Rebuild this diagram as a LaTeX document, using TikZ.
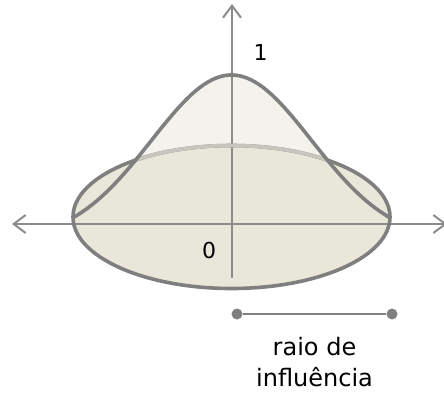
\documentclass[tikz,border=0pt]{standalone}
\usepackage{fontspec}
\setmainfont{DejaVu Sans}
\usetikzlibrary{arrows.meta, positioning, calc}
\definecolor{linegray}{HTML}{7F7F7F}
\definecolor{axisgray}{HTML}{8C8C8C}
\definecolor{rimgray}{HTML}{C6C5BE}
\definecolor{discfill}{HTML}{E9E6DA}
\definecolor{bellfill}{HTML}{F3F2EC}
\tikzset{
    axis/.style={draw=axisgray, line width=2pt, {Straight Barb[length=12pt,width=18pt]}-{Straight Barb[length=12pt,width=18pt]}},
    outline/.style={draw=linegray, line width=3.6pt},
    rim/.style={draw=rimgray, line width=3.6pt},
    dot/.style={circle, fill=linegray, inner sep=0pt, minimum size=11pt},
    lbl/.style={font=\fontsize{22}{26}\selectfont, inner sep=0pt}
}
\newcommand{\bell}{plot[domain=-159:159, samples=90, smooth] ({231.5+\x},{218-143*(exp(-(\x/100)*(\x/100)/1.28)-0.1388)/0.8612})}

\begin{document}
\begin{tikzpicture}[x=1pt, y=-1pt]
    \useasboundingbox (0,0) rectangle (444,392);

    % Fills
    \fill[bellfill] \bell -- cycle;
    \fill[discfill] (231.5,217) ellipse [x radius=158.5, y radius=71.5];

    % Axes
    \coordinate (xl) at (12,224);
    \coordinate (xr) at (447,224);
    \coordinate (yt) at (232,4);
    \coordinate (yb) at (232,278);
    \draw[axis] (xl) -- (xr);
    \draw[axis, -{Straight Barb[length=12pt,width=18pt]}] (yb) -- (yt);

    % Disc and bell
    \draw[outline] (231.5,217) ellipse [x radius=158.5, y radius=71.5];
    \begin{scope}
        \clip \bell -- cycle;
        \draw[rim] (231.5,217) ellipse [x radius=158.5, y radius=71.5];
    \end{scope}
    \draw[outline, line join=round] \bell;

    % Labels
    \node[lbl] (one) at (260.5,52.5) {1};
    \node[lbl] (zero) at (209,250) {0};

    % Radius
    \node[dot] (ra) at (237,314) {};
    \node[dot] (rb) at (392,314) {};
    \draw[draw=linegray, line width=2pt] (ra) -- (rb);
    \node[lbl, font=\fontsize{24}{31}\selectfont, align=center, below=23pt of $(ra)!0.5!(rb)$] (raio) {raio de\\influência};
\end{tikzpicture}
\end{document}
